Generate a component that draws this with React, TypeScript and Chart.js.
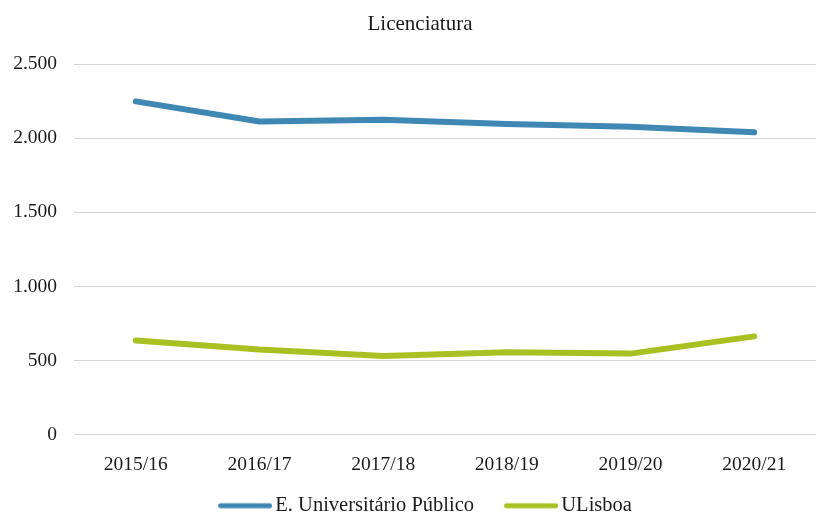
import React, { useEffect, useRef } from "react";
import { Chart, registerables } from "chart.js";

Chart.register(...registerables);

const years = ["2015/16", "2016/17", "2017/18", "2018/19", "2019/20", "2020/21"];
const ensinoPublico = [2248, 2113, 2124, 2095, 2077, 2040];
const uLisboa = [637, 575, 532, 557, 548, 664];
const yTicks = [0, 500, 1000, 1500, 2000, 2500];

const FONT = "'Liberation Serif', 'Times New Roman', serif";
const TEXT = "#1a1a1a";
const BLUE = "#3F88B3";
const GREEN = "#A9C023";

// legend swatch geometry
const SWATCH_LEN = 54;
const SWATCH_BOX = 47;
const SWATCH_THICK = 5;

const fmt = (v: number) => String(v).replace(/\B(?=(\d{3})+(?!\d))/g, ".");

// A rounded line swatch drawn on its own canvas; the left side is padded so the
// image, centred on the legend box, starts at the box's left edge.
function makeSwatch(color: string) {
  const c = document.createElement("canvas");
  const w = 2 * (SWATCH_LEN - SWATCH_BOX / 2);
  c.width = w;
  c.height = 8;
  const ctx = c.getContext("2d")!;
  ctx.strokeStyle = color;
  ctx.lineWidth = SWATCH_THICK;
  ctx.lineCap = "round";
  ctx.beginPath();
  ctx.moveTo(w - SWATCH_LEN + SWATCH_THICK / 2, 4);
  ctx.lineTo(w - SWATCH_THICK / 2, 4);
  ctx.stroke();
  return c;
}

// Nudges the legend and title blocks after layout without touching the chart area.
const shiftBlocks = {
  id: "shiftBlocks",
  afterLayout(chart: any) {
    const opts = chart.options.plugins.shiftBlocks || {};
    const move = (box: any, o: any) => {
      if (!box || !o) return;
      const { dx = 0, dy = 0 } = o;
      box.left += dx;
      box.right += dx;
      box.top += dy;
      box.bottom += dy;
    };
    move(chart.legend, opts.legend);
    move(chart.titleBlock, opts.title);
  },
};

export default function App() {
  const ref = useRef<HTMLCanvasElement | null>(null);

  useEffect(() => {
    if (!ref.current) return;
    const swatches = [makeSwatch(BLUE), makeSwatch(GREEN)];
    const chart = new Chart(ref.current, {
      type: "line",
      plugins: [shiftBlocks],
      data: {
        labels: years,
        datasets: [
          {
            label: "E. Universitário Público",
            data: ensinoPublico,
            borderColor: BLUE,
            backgroundColor: BLUE,
            borderWidth: 6,
            borderCapStyle: "round",
            borderJoinStyle: "round",
            pointRadius: 0,
            tension: 0,
          },
          {
            label: "ULisboa",
            data: uLisboa,
            borderColor: GREEN,
            backgroundColor: GREEN,
            borderWidth: 6,
            borderCapStyle: "round",
            borderJoinStyle: "round",
            pointRadius: 0,
            tension: 0,
          },
        ],
      },
      options: {
        responsive: false,
        animation: false,
        layout: { padding: { top: 0, left: 0, right: 0, bottom: -21.7 } },
        plugins: {
          tooltip: { enabled: false },
          shiftBlocks: { legend: { dx: 17, dy: -10.7 }, title: { dx: 12 } },
          title: {
            display: true,
            text: "Licenciatura",
            color: TEXT,
            font: { family: FONT, size: 21, weight: "normal" },
            padding: { top: 11.6, bottom: 27.2 },
          },
          legend: {
            position: "bottom",
            labels: {
              usePointStyle: true,
              pointStyleWidth: SWATCH_BOX,
              padding: 30,
              color: TEXT,
              font: { family: FONT, size: 20.5 },
              generateLabels: (c: any) => {
                const items = Chart.defaults.plugins.legend.labels.generateLabels(c);
                items.forEach((it: any, i: number) => {
                  it.pointStyle = swatches[i];
                });
                return items;
              },
            },
          },
        } as any,
        scales: {
          x: {
            offset: true,
            grid: { display: false, drawTicks: false },
            border: { display: false },
            ticks: { color: TEXT, font: { family: FONT, size: 19.5 }, padding: 17.8, maxRotation: 0 },
            afterFit: (s: any) => {
              s.height = 41.3;
            },
          },
          y: {
            min: 0,
            max: 2500,
            afterBuildTicks: (s: any) => {
              s.ticks = yTicks.map((v) => ({ value: v }));
            },
            grid: { color: "#d6d6d6", lineWidth: 1, drawTicks: false },
            border: { display: false },
            ticks: {
              color: TEXT,
              font: { family: FONT, size: 19.5 },
              padding: 17,
              callback: (v: any) => fmt(Number(v)),
            },
            afterFit: (s: any) => {
              s.width = 74;
            },
          },
        },
      },
    });
    return () => chart.destroy();
  }, []);

  return (
    <div style={{ position: "fixed", left: 0, top: 0, width: 816, height: 515, background: "#fff" }}>
      <canvas ref={ref} width={816} height={515} />
    </div>
  );
}
